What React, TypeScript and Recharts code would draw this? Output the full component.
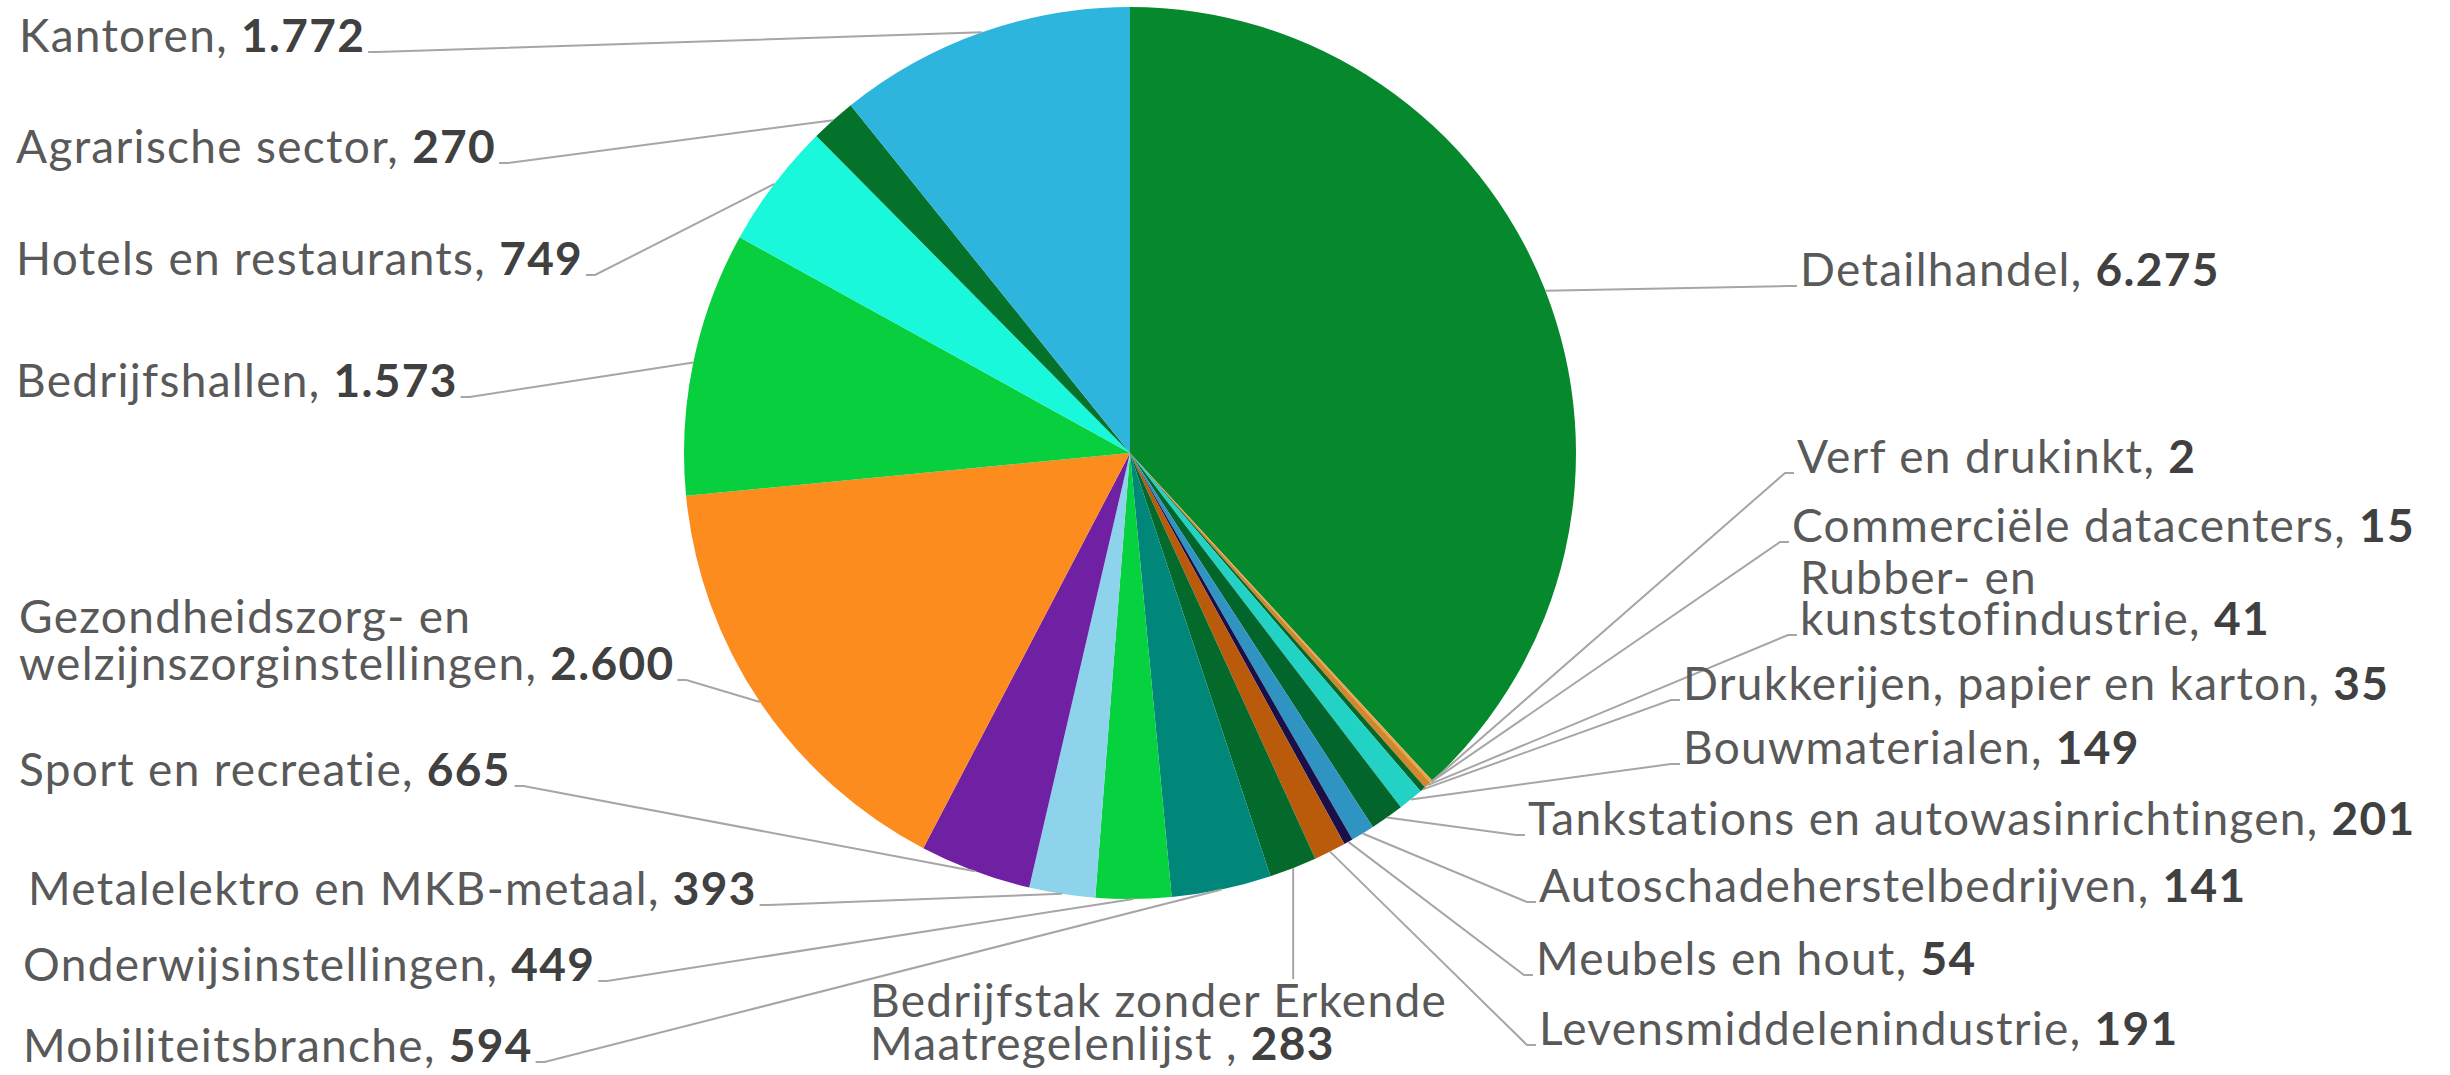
import { PieChart, Pie, Cell } from "recharts";

// sectors, clockwise from 12 o'clock
const categories = [
  "Detailhandel",
  "Verf en drukinkt",
  "Commerciële datacenters",
  "Rubber- en\nkunststofindustrie",
  "Drukkerijen, papier en karton",
  "Bouwmaterialen",
  "Tankstations en autowasinrichtingen",
  "Autoschadeherstelbedrijven",
  "Meubels en hout",
  "Levensmiddelenindustrie",
  "Bedrijfstak zonder Erkende\nMaatregelenlijst ",
  "Mobiliteitsbranche",
  "Onderwijsinstellingen",
  "Metalelektro en MKB-metaal",
  "Sport en recreatie",
  "Gezondheidszorg- en\nwelzijnszorginstellingen",
  "Bedrijfshallen",
  "Hotels en restaurants",
  "Agrarische sector",
  "Kantoren",
];

const values = [6275, 2, 15, 41, 35, 149, 201, 141, 54, 191, 283, 594, 449, 393, 665, 2600, 1573, 749, 270, 1772];

const colors = [
  "#06892C", "#ED7D31", "#E8A24A", "#D2872C", "#04672A",
  "#22D3C5", "#02652B", "#2F94C2", "#1B0F4A", "#BA5B0C",
  "#046A2C", "#01877A", "#06D13E", "#8DD3EC", "#7020A2",
  "#FD8C1E", "#07CF3E", "#19F8DA", "#05722C", "#2EB5DD",
];

// where each data label sits (text start x, first baseline y, line height)
const labelLayout: { x: number; y: number; side: "left" | "right" | "bottom"; lh?: number }[] = [
  { x: 1800, y: 286, side: "right" },
  { x: 1797, y: 473, side: "right" },
  { x: 1792, y: 542, side: "right" },
  { x: 1800, y: 594, side: "right", lh: 41 },
  { x: 1683, y: 700, side: "right" },
  { x: 1683, y: 764, side: "right" },
  { x: 1528, y: 835, side: "right" },
  { x: 1539, y: 902, side: "right" },
  { x: 1536, y: 975, side: "right" },
  { x: 1539, y: 1045, side: "right" },
  { x: 870, y: 1017, side: "bottom", lh: 43 },
  { x: 23, y: 1062, side: "left" },
  { x: 23, y: 981, side: "left" },
  { x: 28, y: 905, side: "left" },
  { x: 19, y: 786, side: "left" },
  { x: 19, y: 633, side: "left", lh: 47 },
  { x: 16, y: 397, side: "left" },
  { x: 16, y: 275, side: "left" },
  { x: 16, y: 163, side: "left" },
  { x: 19, y: 52, side: "left" },
];

const data = categories.map((name, i) => ({ name, value: values[i] }));

const FONT = "Lato";
const FS = 46;
const SPACING = 1.3;
const RAD = Math.PI / 180;

const fmt = (v: number) => String(v).replace(/\B(?=(\d{3})+(?!\d))/g, ".");

let ctx: CanvasRenderingContext2D | null = null;
function textWidth(s: string, bold: boolean) {
  if (!ctx) ctx = document.createElement("canvas").getContext("2d");
  if (!ctx) return s.length * FS * 0.5;
  ctx.font = `${bold ? "bold " : ""}${FS}px ${FONT}`;
  return ctx.measureText(s).width + s.length * SPACING;
}

const renderLabel = (props: any) => {
  const { cx, cy, midAngle, outerRadius, index } = props;
  const lay = labelLayout[index];
  const lh = lay.lh ?? 43;
  const lines = categories[index].split("\n");
  const last = lines.length - 1;
  const val = fmt(values[index]);
  const ex = cx + outerRadius * Math.cos(-midAngle * RAD);
  const ey = cy + outerRadius * Math.sin(-midAngle * RAD);
  const lastY = lay.y + last * lh;

  let pts = "";
  if (lay.side === "right") {
    pts = `${ex},${ey} ${lay.x - 12},${lastY} ${lay.x - 3},${lastY}`;
  } else if (lay.side === "left") {
    const w = textWidth(lines[last] + ", ", false) + textWidth(val, true);
    pts = `${ex},${ey} ${lay.x + w + 12},${lastY} ${lay.x + w + 3},${lastY}`;
  } else {
    pts = `${ex},${ey} ${ex},${lay.y - 38}`;
  }

  return (
    <g key={`lbl-${index}`}>
      <polyline points={pts} fill="none" stroke="#A6A6A6" strokeWidth={2} />
      <text
        x={lay.x}
        y={lay.y}
        fontFamily={FONT}
        fontSize={FS}
        letterSpacing={SPACING}
        fill="#595959"
      >
        {lines.map((ln, i) => (
          <tspan key={i} x={lay.x} y={lay.y + i * lh}>
            {ln}
            {i === last ? ", " : ""}
            {i === last ? (
              <tspan fontWeight="bold" fill="#404040">
                {val}
              </tspan>
            ) : null}
          </tspan>
        ))}
      </text>
    </g>
  );
};

export default function App() {
  return (
    <div style={{ width: 2450, height: 1075, background: "#fff" }}>
      <style>{"body{margin:0;overflow:hidden}"}</style>
      <PieChart width={2450} height={1075}>
        <Pie
          data={data}
          dataKey="value"
          nameKey="name"
          cx={1125}
          cy={448}
          outerRadius={446}
          startAngle={90}
          endAngle={-270}
          stroke="none"
          label={renderLabel}
          labelLine={false}
          isAnimationActive={false}
        >
          {data.map((d, i) => (
            <Cell key={`cell-${i}`} fill={colors[i]} />
          ))}
        </Pie>
      </PieChart>
    </div>
  );
}
